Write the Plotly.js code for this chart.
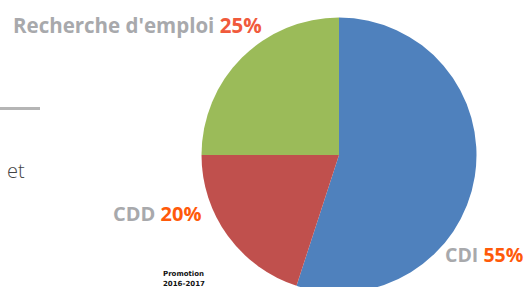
<!DOCTYPE html>
<html>
<head>
<meta charset="utf-8">
<script src="https://cdn.plot.ly/plotly-3.0.1.min.js"></script>
<style>
html,body{margin:0;padding:0;overflow:hidden;background:#fff;width:525px;height:287px;}
#chart{width:525px;height:310px;}
</style>
</head>
<body>
<div id="chart"></div>
<script>
const categories = ["CDI", "CDD", "Recherche d'emploi"];
const values = [55, 20, 25];
const sliceColors = ["#4F81BD", "#C0504D", "#9BBB59"];
const pctLabels = ["55%", "20%", "25%"];

const W = 525, H = 310;
const px = x => x / W;
const py = y => 1 - y / H;

const grey = "#A8A9AC";
const fontMain = "Open Sans";

function lbl(i, x, y, pctColor, size) {
  return {
    xref: "paper", yref: "paper", x: px(x), y: py(y),
    xanchor: "left", yanchor: "middle", showarrow: false,
    text: categories[i] + " <span style='color:" + pctColor + "'>" + pctLabels[i] + "</span>",
    font: {family: fontMain, size: size, color: grey, weight: 700}
  };
}

const data = [{
  type: "pie",
  values: values,
  labels: categories,
  marker: {colors: sliceColors, line: {width: 0}},
  sort: false,
  direction: "clockwise",
  rotation: 0,
  textinfo: "none",
  hoverinfo: "none",
  showlegend: false,
  domain: {x: [px(201.5), px(476.5)], y: [0, 1]}
}];

const layout = {
  width: W, height: H,
  margin: {l: 0, r: 0, t: 0, b: 0},
  paper_bgcolor: "#ffffff",
  plot_bgcolor: "#ffffff",
  showlegend: false,
  shapes: [{
    type: "line", xref: "paper", yref: "paper",
    x0: 0, x1: px(40), y0: py(108.5), y1: py(108.5),
    line: {color: "#B5B5B5", width: 3}
  }],
  annotations: [
    lbl(2, 11, 25, "#F05A3C", 20.5),
    lbl(1, 111, 213, "#FF5A0A", 20),
    lbl(0, 443, 254, "#FF5A0A", 19.5),
    {xref: "paper", yref: "paper", x: px(5), y: py(170), xanchor: "left", yanchor: "middle",
     showarrow: false, text: "et", font: {family: fontMain, size: 20, color: "#444444", weight: 300}},
    {xref: "paper", yref: "paper", x: px(161), y: py(274), xanchor: "left", yanchor: "middle",
     showarrow: false, text: "<b>Promotion</b>", font: {family: "DejaVu Sans", size: 7, color: "#111111"}},
    {xref: "paper", yref: "paper", x: px(161), y: py(284), xanchor: "left", yanchor: "middle",
     showarrow: false, text: "<b>2016-2017</b>", font: {family: "DejaVu Sans", size: 7, color: "#111111"}}
  ]
};

Plotly.newPlot("chart", data, layout, {displayModeBar: false, staticPlot: true});
</script>
</body>
</html>
